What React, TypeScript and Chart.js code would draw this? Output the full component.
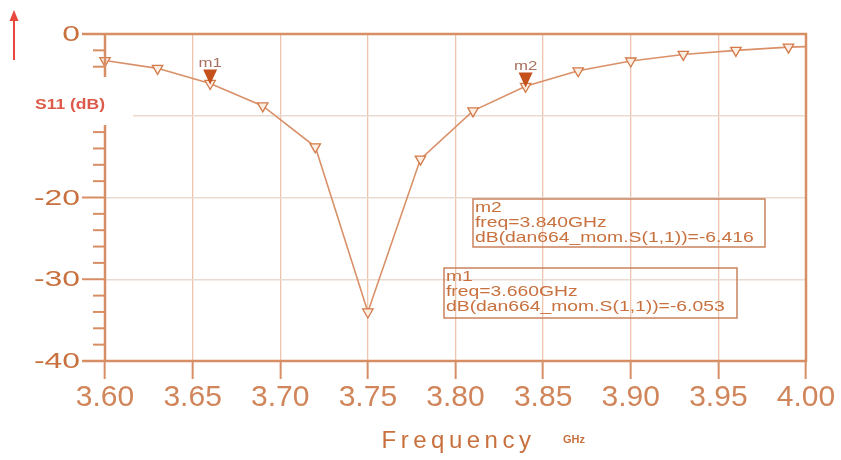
import { useEffect, useRef } from 'react';
import { Chart, registerables } from 'chart.js';

Chart.register(...registerables);

// ---- data ----
const freqGHz = [3.6, 3.63, 3.66, 3.69, 3.72, 3.75, 3.78, 3.81, 3.84, 3.87, 3.9, 3.93, 3.96, 3.99, 4.0];
const s11dB = [-3.25, -4.2, -6.05, -8.8, -13.8, -34.0, -15.3, -9.4, -6.4, -4.5, -3.3, -2.5, -2.0, -1.6, -1.55];
const markerNames = ['m1', 'm2'];
const markerFreq = [3.66, 3.84];
const markerDb = [-6.053, -6.416];
const xTickValues = [3.6, 3.65, 3.7, 3.75, 3.8, 3.85, 3.9, 3.95, 4.0];
const yLabelValues = [0, -20, -30, -40];
const yAxisTitle = 'S11 (dB)';
const xAxisTitle = 'Frequency';
const xAxisUnit = 'GHz';
const traceName = 'dan664_mom';

const AXIS = '#d88e64';
const TEXT = '#c8713e';

function stretchText(ctx: CanvasRenderingContext2D, text: string, x: number, y: number, sx: number, align: CanvasTextAlign) {
  ctx.save();
  ctx.translate(x, y);
  ctx.scale(sx, 1);
  ctx.textAlign = align;
  ctx.fillText(text, 0, 0);
  ctx.restore();
}

const decoPlugin = {
  id: 'deco',
  afterDraw(chart: any) {
    const ctx: CanvasRenderingContext2D = chart.ctx;
    const { left, right, top, bottom } = chart.chartArea;
    const xs = chart.scales.x;
    const ys = chart.scales.y;
    ctx.save();

    // frame
    ctx.strokeStyle = AXIS;
    ctx.lineWidth = 2.5;
    ctx.beginPath();
    ctx.moveTo(left - 23, top);
    ctx.lineTo(right, top);
    ctx.lineTo(right, bottom);
    ctx.lineTo(left - 23, bottom);
    ctx.moveTo(left, top);
    ctx.lineTo(left, bottom);
    ctx.stroke();

    // y tick marks
    ctx.lineWidth = 2;
    for (const t of ys.ticks) {
      const py = ys.getPixelForValue(t.value);
      const major = Math.round(t.value) % 10 === 0;
      ctx.beginPath();
      ctx.moveTo(left - (major ? 23 : 12), py);
      ctx.lineTo(left, py);
      ctx.stroke();
    }

    // y labels
    ctx.fillStyle = TEXT;
    ctx.font = '22px "Liberation Sans"';
    ctx.textBaseline = 'middle';
    for (const v of yLabelValues) {
      stretchText(ctx, String(v), left - 25, ys.getPixelForValue(v) + 1, 1.45, 'right');
    }

    // S11 label box
    ctx.fillStyle = '#ffffff';
    ctx.fillRect(28, 77, 105, 48);
    ctx.fillStyle = '#dc5a4a';
    ctx.font = 'bold 14px "Liberation Sans"';
    ctx.textBaseline = 'middle';
    stretchText(ctx, yAxisTitle, 35, 105, 1.25, 'left');

    // red arrow
    ctx.strokeStyle = '#e8483e';
    ctx.fillStyle = '#e8483e';
    ctx.lineWidth = 2;
    ctx.beginPath();
    ctx.moveTo(14, 60);
    ctx.lineTo(14, 18);
    ctx.stroke();
    ctx.beginPath();
    ctx.moveTo(14, 10);
    ctx.lineTo(9.5, 21);
    ctx.lineTo(18.5, 21);
    ctx.closePath();
    ctx.fill();

    // marker symbols + names
    for (let i = 0; i < markerNames.length; i++) {
      const px = xs.getPixelForValue(markerFreq[i]);
      const py = ys.getPixelForValue(markerDb[i]);
      ctx.fillStyle = '#c4501c';
      ctx.beginPath();
      ctx.moveTo(px, py + 1);
      ctx.lineTo(px - 7, py - 14);
      ctx.lineTo(px + 7, py - 14);
      ctx.closePath();
      ctx.fill();
      ctx.fillStyle = '#a8705e';
      ctx.font = '12px "Liberation Sans"';
      ctx.textBaseline = 'middle';
      stretchText(ctx, markerNames[i], px, py - 20, 1.4, 'center');
    }

    // readout boxes
    const boxes = [
      { x: 444, y: 268, w: 293, h: 50 },
      { x: 473, y: 199, w: 292, h: 48 },
    ];
    for (let i = 0; i < markerNames.length; i++) {
      const b = boxes[i];
      ctx.strokeStyle = '#c9825c';
      ctx.lineWidth = 1.5;
      ctx.strokeRect(b.x, b.y, b.w, b.h);
      const lines = [
        markerNames[i],
        `freq=${markerFreq[i].toFixed(3)}GHz`,
        `dB(${traceName}.S(1,1))=${markerDb[i].toFixed(3)}`,
      ];
      ctx.fillStyle = TEXT;
      ctx.font = '14px "Liberation Sans"';
      ctx.textBaseline = 'middle';
      lines.forEach((s, k) => stretchText(ctx, s, b.x + 2, b.y + 9 + k * 15, 1.38, 'left'));
    }

    // x title
    ctx.fillStyle = TEXT;
    ctx.font = '24px "Liberation Sans"';
    ctx.textBaseline = 'alphabetic';
    (ctx as any).letterSpacing = '4.5px';
    const w = ctx.measureText(xAxisTitle).width;
    ctx.textAlign = 'left';
    ctx.fillText(xAxisTitle, (left + right) / 2 - w / 2 + 3, 448);
    (ctx as any).letterSpacing = '0px';
    ctx.font = 'bold 11px "Liberation Sans"';
    ctx.textBaseline = 'middle';
    ctx.fillText(xAxisUnit, 563, 440);

    ctx.restore();
  },
};

export default function App() {
  const ref = useRef<HTMLCanvasElement | null>(null);
  useEffect(() => {
    if (!ref.current) return;
    const last = freqGHz.length - 1;
    const chart = new Chart(ref.current, {
      type: 'line',
      data: {
        datasets: [
          {
            label: 'dB(S(1,1))',
            data: freqGHz.map((f, i) => ({ x: f, y: s11dB[i] })),
            borderColor: '#d99068',
            borderWidth: 1.6,
            pointStyle: 'triangle',
            rotation: 180,
            pointRadius: (c: any) => (c.dataIndex === last ? 0 : 6),
            pointBorderColor: '#d27a48',
            pointBackgroundColor: '#fdeee4',
            pointBorderWidth: 1.3,
            tension: 0,
            clip: false,
          },
        ],
      },
      options: {
        responsive: false,
        maintainAspectRatio: false,
        animation: false,
        layout: { padding: { top: 34, right: 35, left: 0, bottom: 0 } },
        plugins: { legend: { display: false }, tooltip: { enabled: false } },
        scales: {
          x: {
            type: 'linear',
            min: 3.6,
            max: 4.0,
            afterBuildTicks: (s: any) => {
              s.ticks = xTickValues.map((v) => ({ value: v }));
            },
            afterFit: (s: any) => {
              s.height = 99;
            },
            ticks: {
              callback: (v: any) => Number(v).toFixed(2),
              font: { family: 'Liberation Sans', size: 30 },
              color: '#d0855a',
              padding: 1,
              maxRotation: 0,
              autoSkip: false,
            },
            grid: { color: '#efc4ad', lineWidth: 1.3, tickLength: 18, tickColor: AXIS, tickWidth: 2 },
            border: { display: false },
          },
          y: {
            min: -40,
            max: 0,
            afterFit: (s: any) => {
              s.width = 105;
            },
            ticks: { stepSize: 2, display: false },
            grid: {
              color: (c: any) => {
                const v = Math.round(c.tick.value);
                return v % 10 === 0 && v !== 0 && v !== -40 ? '#eadad0' : 'rgba(0,0,0,0)';
              },
              lineWidth: 1.5,
              drawTicks: false,
            },
            border: { display: false },
          },
        },
      } as any,
      plugins: [decoPlugin],
    });
    return () => chart.destroy();
  }, []);
  return (
    <div style={{ position: 'fixed', left: 0, top: 0, width: 841, height: 460, background: '#ffffff' }}>
      <canvas ref={ref} width={841} height={460} style={{ width: 841, height: 460, display: 'block' }} />
    </div>
  );
}
